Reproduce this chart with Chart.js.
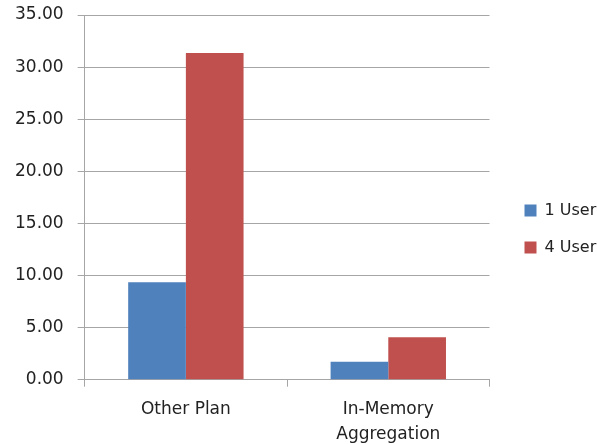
<!DOCTYPE html>
<html>
<head>
<meta charset="utf-8">
<script src="https://cdn.jsdelivr.net/npm/chart.js@4/dist/chart.umd.min.js"></script>
<style>
html,body{margin:0;padding:0;background:#fff;}
#wrap{width:597px;height:444px;position:relative;}
</style>
</head>
<body>
<div id="wrap"><canvas id="c" width="597" height="444"></canvas></div>
<script>
const categories = [["Other Plan"], ["In-Memory", "Aggregation"]];
const seriesNames = ["1 User", "4 User"];
const oneUser = [9.36, 1.73];
const fourUser = [31.35, 4.07];
const seriesColors = ["#4F81BD", "#C0504D"];
const yTicks = [0, 5, 10, 15, 20, 25, 30, 35];

const FONT = "'DejaVu Sans', sans-serif";
const axisColor = "#A6A6A6";

new Chart(document.getElementById('c'), {
  type: 'bar',
  data: {
    labels: categories,
    datasets: [
      { label: seriesNames[0], data: oneUser, backgroundColor: seriesColors[0], borderWidth: 0 },
      { label: seriesNames[1], data: fourUser, backgroundColor: seriesColors[1], borderWidth: 0 }
    ]
  },
  options: {
    responsive: false,
    animation: false,
    devicePixelRatio: 1,
    layout: { padding: { top: 0, left: 1, right: -7, bottom: -14 } },
    datasets: { bar: { categoryPercentage: 0.57, barPercentage: 1.0 } },
    plugins: {
      legend: {
        position: 'right',
        align: 'center',
        labels: {
          boxWidth: 12, boxHeight: 12, padding: 21,
          color: '#222', font: { family: FONT, size: 16 }
        }
      },
      tooltip: { enabled: false }
    },
    scales: {
      x: {
        offset: true,
        grid: { offset: true, drawOnChartArea: false, drawTicks: true, tickLength: 7, color: axisColor, lineWidth: 1 },
        border: { color: axisColor, width: 1 },
        ticks: { color: '#222', font: { family: FONT, size: 17, lineHeight: 1.45 }, padding: 11, maxRotation: 0 }
      },
      y: {
        min: 0, max: 35,
        afterBuildTicks: (axis) => { axis.ticks = yTicks.map(v => ({ value: v })); },
        afterFit: (s) => { s.paddingTop = 15; s.paddingBottom = 0; },
        grid: { color: axisColor, lineWidth: 1, tickLength: 7 },
        border: { color: axisColor, width: 1 },
        ticks: {
          color: '#222', font: { family: FONT, size: 17 }, padding: 14,
          callback: (v) => Number(v).toFixed(2)
        }
      },
      gap: {
        type: 'linear', position: 'right', display: true,
        grid: { display: false, drawOnChartArea: false },
        border: { display: false },
        ticks: { display: false },
        afterFit: (s) => { s.width = 14; s.paddingTop = 0; s.paddingBottom = 0; }
      }
    }
  }
});
</script>
</body>
</html>
